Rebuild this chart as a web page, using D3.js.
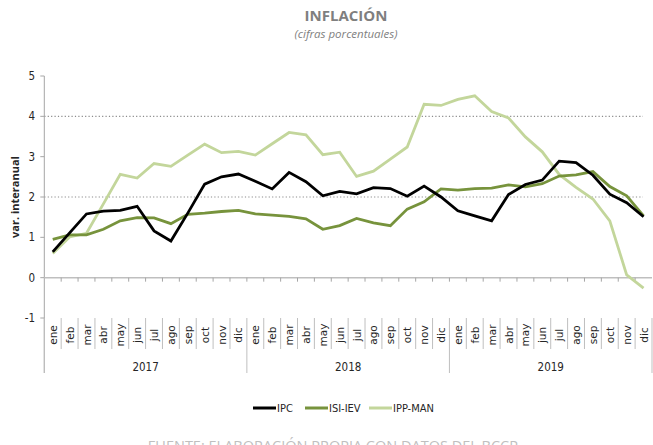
<!DOCTYPE html>
<html>
<head>
<meta charset="utf-8">
<script src="https://cdn.jsdelivr.net/npm/d3@7"></script>
<style>
  body { margin: 0; background: #fff; }
  svg { display: block; }
</style>
</head>
<body>
<div id="chart"></div>
<script>
// Monthly labels and years
const months = ["ene","feb","mar","abr","may","jun","jul","ago","sep","oct","nov","dic"];
const years = ["2017", "2018", "2019"];

// Year-on-year variation (%)
const ipc = [0.64,1.11,1.58,1.65,1.67,1.77,1.16,0.91,1.60,2.32,2.50,2.57,
             2.39,2.20,2.61,2.38,2.03,2.14,2.08,2.23,2.21,2.02,2.27,2.00,
             1.66,1.53,1.41,2.06,2.31,2.42,2.89,2.85,2.54,2.07,1.86,1.51];
const isiIev = [0.95,1.06,1.06,1.20,1.41,1.49,1.48,1.34,1.57,1.60,1.64,1.67,
                1.58,1.55,1.52,1.46,1.20,1.29,1.47,1.36,1.29,1.70,1.88,2.20,
                2.17,2.21,2.22,2.30,2.25,2.33,2.52,2.55,2.63,2.26,2.03,1.53];
const ippMan = [0.60,1.01,1.10,1.83,2.56,2.47,2.83,2.76,3.04,3.31,3.10,3.13,
                3.04,3.32,3.60,3.54,3.05,3.11,2.51,2.64,2.94,3.24,4.30,4.27,
                4.42,4.51,4.12,3.96,3.49,3.12,2.56,2.24,1.95,1.41,0.07,-0.26];

const seriesNames = ["IPC", "ISI-IEV", "IPP-MAN"];
const yTicks = [-1, 0, 1, 2, 3, 4, 5];
const gridValues = [2, 4];

(function () {
    const width = 653, height = 445;
    const left = 44.3, right = 652, top = 76, bottom = 318;

    const svg = d3.select("#chart").append("svg")
        .attr("width", width)
        .attr("height", height);

    // one category per month across the three years
    const cats = [];
    years.forEach(y => months.forEach(m => cats.push(y + "-" + m)));

    const x = d3.scaleBand().domain(cats).range([left, right]);
    const y = d3.scaleLinear().domain([-1, 5]).range([bottom, top]);

    // Title
    svg.append("text")
        .attr("x", 346).attr("y", 21)
        .attr("text-anchor", "middle")
        .style("font-family", "'Open Sans', sans-serif")
        .style("font-weight", "bold")
        .style("font-size", "15px")
        .attr("fill", "#7f7f7f")
        .text("INFLACIÓN");
    svg.append("text")
        .attr("x", 346).attr("y", 38)
        .attr("text-anchor", "middle")
        .style("font-family", "'Open Sans', sans-serif")
        .style("font-style", "italic")
        .style("font-size", "11.5px")
        .attr("fill", "#7f7f7f")
        .text("(cifras porcentuales)");

    // Dotted gridlines
    svg.selectAll(".grid")
        .data(gridValues)
        .enter().append("line")
        .attr("x1", left).attr("x2", 643)
        .attr("y1", d => y(d)).attr("y2", d => y(d))
        .attr("stroke", "#8c8c8c")
        .attr("stroke-width", 1.2)
        .attr("stroke-dasharray", "1.2,2.2");

    // Y axis
    svg.append("line")
        .attr("x1", left).attr("x2", left)
        .attr("y1", top).attr("y2", 373)
        .attr("stroke", "#a6a6a6");
    svg.selectAll(".ytick")
        .data(yTicks)
        .enter().append("line")
        .attr("x1", left - 4).attr("x2", left)
        .attr("y1", d => y(d)).attr("y2", d => y(d))
        .attr("stroke", "#a6a6a6");
    svg.selectAll(".ylab")
        .data(yTicks)
        .enter().append("text")
        .attr("x", 35).attr("y", d => y(d) + 4)
        .attr("text-anchor", "end")
        .style("font-family", "'Liberation Sans Narrow', 'DejaVu Sans Condensed', sans-serif")
        .style("font-size", "11.5px")
        .attr("fill", "#262626")
        .text(d => d);

    svg.append("text")
        .attr("transform", "translate(19,197) rotate(-90)")
        .attr("text-anchor", "middle")
        .style("font-family", "'Open Sans', sans-serif")
        .style("font-weight", "bold")
        .style("font-size", "11px")
        .attr("fill", "#262626")
        .text("var. interanual");

    // Zero line with category ticks
    svg.append("line")
        .attr("x1", left).attr("x2", right)
        .attr("y1", y(0)).attr("y2", y(0))
        .attr("stroke", "#bfbfbf").attr("stroke-width", 1.5);
    svg.selectAll(".xtick")
        .data(cats.slice(1))
        .enter().append("line")
        .attr("x1", d => x(d)).attr("x2", d => x(d))
        .attr("y1", y(0)).attr("y2", y(0) + 4)
        .attr("stroke", "#a6a6a6");

    // Month separators and labels
    svg.selectAll(".msep")
        .data(cats)
        .enter().append("line")
        .attr("x1", d => x(d)).attr("x2", d => x(d))
        .attr("y1", bottom).attr("y2", (d, i) => i % 12 === 0 ? 373 : 349)
        .attr("stroke", "#bfbfbf");
    svg.append("line")
        .attr("x1", right).attr("x2", right)
        .attr("y1", bottom).attr("y2", 373)
        .attr("stroke", "#bfbfbf");

    svg.selectAll(".mlab")
        .data(cats)
        .enter().append("text")
        .attr("transform", d => `translate(${x(d) + x.bandwidth() / 2 + 4},335) rotate(-90)`)
        .attr("text-anchor", "middle")
        .style("font-family", "'DejaVu Sans', sans-serif")
        .style("font-size", "10.5px")
        .attr("fill", "#262626")
        .text(d => d.split("-")[1]);

    svg.selectAll(".ylabel")
        .data(years)
        .enter().append("text")
        .attr("x", d => x(d + "-jun") + x.bandwidth())
        .attr("y", 371)
        .attr("text-anchor", "middle")
        .style("font-family", "'Liberation Sans Narrow', 'DejaVu Sans Condensed', sans-serif")
        .style("font-size", "11.5px")
        .attr("fill", "#262626")
        .text(d => d);

    // Lines
    const series = [
        { name: seriesNames[0], values: ipc, color: "#000000" },
        { name: seriesNames[1], values: isiIev, color: "#77933c" },
        { name: seriesNames[2], values: ippMan, color: "#c3d69b" }
    ];

    const line = d3.line()
        .x((d, i) => x(cats[i]) + x.bandwidth() / 2)
        .y(d => y(d));

    svg.selectAll(".series")
        .data(series.slice().reverse())
        .enter().append("path")
        .attr("d", d => line(d.values))
        .attr("fill", "none")
        .attr("stroke", d => d.color)
        .attr("stroke-width", 2.8)
        .attr("stroke-linejoin", "miter");

    // Legend
    const legendX = [253, 305, 369];
    const legend = svg.selectAll(".legend")
        .data(series)
        .enter().append("g")
        .attr("transform", (d, i) => `translate(${legendX[i]},408)`);
    legend.append("line")
        .attr("x1", 0).attr("x2", 23)
        .attr("stroke", d => d.color)
        .attr("stroke-width", 3);
    legend.append("text")
        .attr("x", 24).attr("y", 4)
        .style("font-family", "'Liberation Sans Narrow', 'DejaVu Sans Condensed', sans-serif")
        .style("font-size", "11px")
        .attr("fill", "#262626")
        .text(d => d.name);

    // Source note (partly cut by the page edge)
    svg.append("text")
        .attr("x", 333).attr("y", 451)
        .attr("text-anchor", "middle")
        .style("font-family", "'Open Sans', sans-serif")
        .style("font-size", "14.5px")
        .attr("fill", "#bfbfbf")
        .text("FUENTE: ELABORACIÓN PROPIA CON DATOS DEL BCCR");
})();
</script>
</body>
</html>
